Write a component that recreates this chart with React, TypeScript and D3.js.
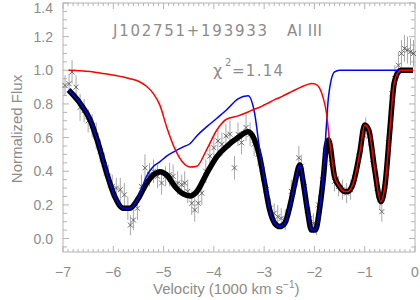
import React from "react";
import * as d3 from "d3";

// observed spectrum (velocity in 1000 km/s, normalized flux, 1-sigma error)
const obsV = [
    -6.96, -6.88, -6.82, -6.74, -6.66, -6.58, -6.5, -6.42, -6.34, -6.26, -6.18, -6.1,
    -6.02, -5.94, -5.86, -5.78, -5.71, -5.66, -5.6, -5.52, -5.44, -5.37, -5.28, -5.2,
    -5.12, -5.04, -4.96, -4.88, -4.81, -4.72, -4.64, -4.58, -4.52, -4.44, -4.38, -4.31,
    -4.24, -4.16, -4.08, -4.0, -3.92, -3.84, -3.76, -3.68, -3.59, -3.52, -3.45, -3.36,
    -3.28, -3.2, -3.12, -3.04, -2.96, -2.88, -2.8, -2.73, -2.66, -2.58, -2.52, -2.46,
    -2.38, -2.31, -2.26, -2.2, -2.14, -2.09, -2.02, -1.96, -1.92, -1.84, -1.78, -1.72,
    -1.66, -1.6, -1.52, -1.44, -1.36, -1.28, -1.2, -1.12, -1.04, -0.98, -0.92, -0.84,
    -0.76, -0.7, -0.66, -0.6, -0.53, -0.46, -0.4, -0.33, -0.27, -0.21, -0.15, -0.09, -0.03,
];
const obsF = [
    0.91, 0.92, 0.99, 0.9, 0.78, 0.76, 0.7, 0.67, 0.61, 0.52, 0.44, 0.37,
    0.31, 0.3, 0.29, 0.26, 0.18, 0.08, 0.11, 0.18, 0.31, 0.42, 0.38, 0.4,
    0.37, 0.33, 0.37, 0.38, 0.37, 0.33, 0.32, 0.33, 0.28, 0.21, 0.17, 0.21,
    0.27, 0.4, 0.49, 0.54, 0.58, 0.56, 0.61, 0.62, 0.42, 0.62, 0.57, 0.66,
    0.62, 0.56, 0.5, 0.41, 0.29, 0.18, 0.15, 0.13, 0.12, 0.11, 0.16, 0.28,
    0.33, 0.48, 0.43, 0.31, 0.17, 0.12, 0.09, 0.08, 0.2, 0.35, 0.52, 0.58,
    0.45, 0.34, 0.31, 0.29, 0.27, 0.29, 0.36, 0.49, 0.62, 0.66, 0.61, 0.47,
    0.3, 0.23, 0.16, 0.31, 0.57, 0.86, 0.95, 1.03, 1.1, 1.13, 1.12, 1.11, 1.1,
];
const obsErr = [
    0.06, 0.06, 0.07, 0.07, 0.08, 0.07, 0.07, 0.07, 0.08, 0.07, 0.07, 0.07,
    0.07, 0.06, 0.07, 0.07, 0.07, 0.06, 0.06, 0.07, 0.07, 0.08, 0.07, 0.07,
    0.07, 0.07, 0.06, 0.07, 0.07, 0.07, 0.06, 0.07, 0.07, 0.07, 0.07, 0.06,
    0.07, 0.07, 0.08, 0.07, 0.07, 0.07, 0.07, 0.08, 0.07, 0.07, 0.07, 0.08,
    0.07, 0.07, 0.07, 0.07, 0.06, 0.06, 0.06, 0.07, 0.06, 0.06, 0.06, 0.07,
    0.07, 0.07, 0.06, 0.06, 0.06, 0.06, 0.06, 0.06, 0.06, 0.06, 0.06, 0.06,
    0.06, 0.06, 0.06, 0.06, 0.06, 0.06, 0.06, 0.06, 0.06, 0.06, 0.06, 0.06,
    0.06, 0.06, 0.06, 0.06, 0.07, 0.07, 0.08, 0.08, 0.08, 0.08, 0.08, 0.08, 0.08,
];

// model: total fit (black), component 1 (blue), component 2 (red)
const fitV = [
    -6.89, -6.66, -6.46, -6.3, -6.13, -5.97, -5.8, -5.67, -5.5, -5.34, -5.2, -5.07,
    -4.94, -4.77, -4.61, -4.47, -4.34, -4.14, -3.94, -3.75, -3.52, -3.32, -3.19, -3.09,
    -2.99, -2.89, -2.79, -2.69, -2.59, -2.49, -2.39, -2.29, -2.23, -2.14, -2.06, -1.98,
    -1.9, -1.82, -1.76, -1.72, -1.6, -1.5, -1.4, -1.34, -1.23, -1.1, -1.0, -0.92,
    -0.8, -0.68, -0.6, -0.5, -0.42, -0.34, -0.27, -0.04,
];
const fitTotal = [
    0.883, 0.804, 0.705, 0.566, 0.388, 0.249, 0.18, 0.18, 0.239, 0.328, 0.378, 0.397,
    0.378, 0.308, 0.265, 0.253, 0.279, 0.388, 0.487, 0.546, 0.6, 0.635, 0.586, 0.487,
    0.328, 0.17, 0.091, 0.071, 0.091, 0.189, 0.328, 0.437, 0.348, 0.17, 0.051, 0.051,
    0.17, 0.368, 0.556, 0.586, 0.368, 0.308, 0.279, 0.279, 0.328, 0.507, 0.675, 0.645,
    0.407, 0.219, 0.308, 0.645, 0.913, 0.986, 1.0, 1.0,
];
const fitBlue = [
    0.883, 0.804, 0.705, 0.566, 0.388, 0.249, 0.18, 0.18, 0.245, 0.37, 0.43, 0.457,
    0.49, 0.52, 0.545, 0.565, 0.61, 0.665, 0.715, 0.764, 0.83, 0.848, 0.745, 0.53,
    0.345, 0.17, 0.091, 0.071, 0.091, 0.189, 0.328, 0.437, 0.348, 0.17, 0.051, 0.051,
    0.17, 0.4, 0.68, 0.843, 0.99, 1.0, 1.0, 1.0, 1.0, 1.0, 1.0, 1.0,
    1.0, 1.0, 1.0, 1.0, 1.0, 1.0, 1.0, 1.0,
];
const fitRed = [
    1.0, 0.998, 0.993, 0.985, 0.978, 0.97, 0.96, 0.95, 0.935, 0.905, 0.86, 0.79,
    0.665, 0.53, 0.45, 0.425, 0.43, 0.53, 0.645, 0.709, 0.729, 0.752, 0.77, 0.78,
    0.795, 0.81, 0.826, 0.838, 0.853, 0.868, 0.883, 0.897, 0.905, 0.915, 0.922, 0.918,
    0.895, 0.83, 0.745, 0.64, 0.368, 0.308, 0.279, 0.279, 0.328, 0.507, 0.675, 0.645,
    0.407, 0.219, 0.308, 0.645, 0.913, 0.986, 1.0, 1.0,
];

const xTicks = [-7, -6, -5, -4, -3, -2, -1, 0];
const yTicks = [0, 0.2, 0.4, 0.6, 0.8, 1.0, 1.2, 1.4];

const grey = "#8c8c8c";
const font = "'Liberation Sans', Arial, sans-serif";
const wideFont = "'DejaVu Sans', sans-serif";

export default function App() {
    const ref = React.useRef<SVGSVGElement>(null);

    React.useEffect(() => {
        const width = 420;
        const height = 300;
        const marginTop = 3;
        const marginRight = 5;
        const marginBottom = 48;
        const marginLeft = 63;

        const x = d3
            .scaleLinear()
            .domain([-7, 0])
            .range([marginLeft, width - marginRight]);
        const y = d3
            .scaleLinear()
            .domain([-0.08, 1.4])
            .range([height - marginBottom, marginTop]);

        const svg = d3
            .select(ref.current)
            .attr("width", width)
            .attr("height", height)
            .attr("viewBox", [0, 0, width, height])
            .style("display", "block")
            .style("background", "white");

        const x0 = x.range()[0];
        const x1 = x.range()[1];
        const y0 = y.range()[0];
        const y1 = y.range()[1];

        // frame + inward ticks on all four sides
        const axes = svg.append("g").attr("stroke", "#b4b4b4").attr("stroke-width", 1);
        axes.append("rect")
            .attr("x", x0)
            .attr("y", y1)
            .attr("width", x1 - x0)
            .attr("height", y0 - y1)
            .attr("fill", "none");

        const xMinor = d3.range(-70, 1).map((d) => d / 10);
        const yMinor = d3.range(-1, 29).map((d) => d / 20);
        const isMajorX = (d: number) => Math.abs(d - Math.round(d)) < 1e-6;
        const isMajorY = (d: number) => Math.abs(d * 5 - Math.round(d * 5)) < 1e-6;

        axes.selectAll()
            .data(xMinor)
            .join("path")
            .attr("d", (d) => {
                const len = isMajorX(d) ? 6 : 3;
                const px = x(d);
                return `M${px},${y0}v${-len}M${px},${y1}v${len}`;
            });

        axes.selectAll()
            .data(yMinor.filter((d) => y(d) <= y0 && y(d) >= y1))
            .join("path")
            .attr("d", (d) => {
                const len = isMajorY(d) ? 6 : 4;
                const py = y(d);
                return `M${x0},${py}h${len}M${x1},${py}h${-len}`;
            });

        // tick labels
        svg.append("g")
            .attr("fill", grey)
            .attr("font-family", font)
            .attr("font-size", 14)
            .attr("text-anchor", "middle")
            .selectAll()
            .data(xTicks)
            .join("text")
            .attr("x", (d) => x(d))
            .attr("y", 272)
            .attr("dominant-baseline", "central")
            .text((d) => (d < 0 ? "\u2212" + Math.abs(d) : String(d)));

        svg.append("g")
            .attr("fill", grey)
            .attr("font-family", font)
            .attr("font-size", 14)
            .attr("text-anchor", "end")
            .selectAll()
            .data(yTicks)
            .join("text")
            .attr("x", 53)
            .attr("y", (d) => Math.max(y(d), 8))
            .attr("dominant-baseline", "central")
            .text((d) => d.toFixed(1));

        // data: error bars and x markers
        const obs = obsV.map((v, i) => ({ v, f: obsF[i], e: obsErr[i] }));
        const data = svg.append("g");
        data.append("g")
            .attr("stroke", "#a8a8a8")
            .attr("stroke-width", 1)
            .selectAll()
            .data(obs)
            .join("line")
            .attr("x1", (d) => x(d.v))
            .attr("x2", (d) => x(d.v))
            .attr("y1", (d) => y(d.f - d.e))
            .attr("y2", (d) => y(d.f + d.e));
        data.append("g")
            .attr("stroke", "#5a5a5a")
            .attr("stroke-width", 0.9)
            .selectAll()
            .data(obs)
            .join("path")
            .attr("d", (d) => {
                const px = x(d.v);
                const py = y(d.f);
                const s = 2.5;
                return `M${px - s},${py - s}L${px + s},${py + s}M${px - s},${py + s}L${px + s},${py - s}`;
            });

        // model lines
        const line = d3
            .line<number>()
            .x((_, i) => x(fitV[i]))
            .y((d) => y(d))
            .curve(d3.curveMonotoneX);

        svg.append("path")
            .attr("d", line(fitTotal))
            .attr("fill", "none")
            .attr("stroke", "black")
            .attr("stroke-width", 5.5)
            .attr("stroke-linejoin", "round");
        svg.append("path")
            .attr("d", line(fitBlue))
            .attr("fill", "none")
            .attr("stroke", "#0000ff")
            .attr("stroke-width", 1.5);
        svg.append("path")
            .attr("d", line(fitRed))
            .attr("fill", "none")
            .attr("stroke", "#ff0000")
            .attr("stroke-width", 1.5);

        // annotations
        const ann = svg.append("g").attr("fill", grey).attr("font-family", wideFont);
        ann.append("text")
            .attr("x", 113)
            .attr("y", 36)
            .attr("font-size", 15)
            .attr("textLength", 154)
            .attr("lengthAdjust", "spacing")
            .text("J102751+193933");
        ann.append("text")
            .attr("x", 287)
            .attr("y", 36)
            .attr("font-size", 15)
            .attr("textLength", 35)
            .attr("lengthAdjust", "spacing")
            .text("Al III");
        ann.append("text")
            .attr("x", 213)
            .attr("y", 76)
            .attr("font-size", 16)
            .text("\u03c7");
        ann.append("text")
            .attr("x", 225)
            .attr("y", 66)
            .attr("font-size", 10)
            .text("2");
        ann.append("text")
            .attr("x", 232)
            .attr("y", 76)
            .attr("font-size", 15)
            .attr("textLength", 51)
            .attr("lengthAdjust", "spacing")
            .text("=1.14");

        ann.append("text")
            .attr("transform", "translate(22,129) rotate(-90)")
            .attr("text-anchor", "middle")
            .attr("font-family", font)
            .attr("font-size", 15)
            .text("Normalized Flux");

        const xl = ann.append("text")
            .attr("x", 153)
            .attr("y", 294)
            .attr("font-family", font)
            .attr("font-size", 15);
        xl.append("tspan").text("Velocity (1000 km s");
        xl.append("tspan").attr("font-size", 10).attr("dy", -6).text("\u22121");
        xl.append("tspan").attr("dy", 6).text(")");

        return () => {
            svg.selectAll("*").remove();
        };
    }, []);

    return (
        <div style={{ position: "absolute", left: 0, top: 0 }}>
            <svg ref={ref}></svg>
        </div>
    );
}
